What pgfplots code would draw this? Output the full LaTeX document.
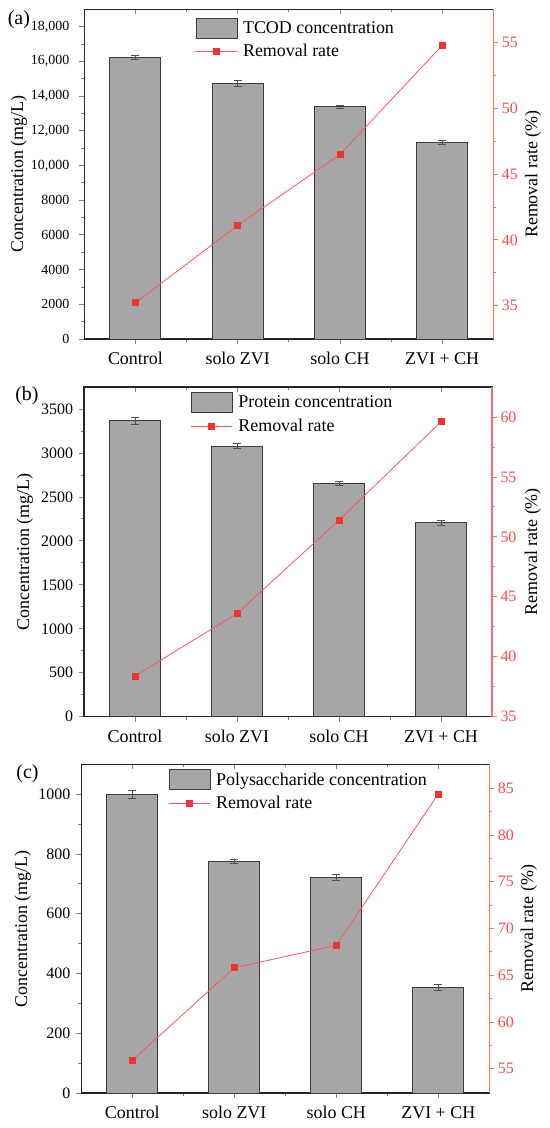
\documentclass[border=0pt]{standalone}
\usepackage{fontspec}
\setmainfont{Liberation Serif}
\usepackage{pgfplots}
\pgfplotsset{compat=1.18}
\definecolor{barfill}{HTML}{A6A6A6}
\definecolor{bardraw}{HTML}{3A3A3A}
\definecolor{errc}{HTML}{505050}
\definecolor{redaxis}{HTML}{FF6A6A}
\definecolor{redtext}{HTML}{FF4848}
\definecolor{redline}{HTML}{FF5555}
\definecolor{redmark}{HTML}{EE3333}
\pgfplotsset{
  base/.style={scale only axis, xmin=-0.5, xmax=3.5, scaled y ticks=false, scaled x ticks=false,
    /pgf/number format/assume math mode=true, /pgf/number format/1000 sep={},
    major tick length=5bp, minor tick length=3bp,
    axis line style={line width=1.1bp, draw=black!85},
    every tick/.append style={line width=0.8bp}},
  barax/.style={base, clip=false, xtick={0,1,2,3}, xticklabels={Control,solo ZVI,solo CH,ZVI + CH},
    minor xtick={0.5,1.5,2.5}, xtick pos=left, ytick pos=left, tick align=outside,
    minor y tick num=1,
    ylabel={Concentration (mg/L)},
    ylabel style={anchor=center, font=\fontsize{18}{20}\selectfont},
    yticklabel style={font=\fontsize{16}{18}\selectfont, xshift=-2.5bp},
    xticklabel style={font=\fontsize{18}{20}\selectfont, yshift=-5bp}},
  lineax/.style={base, axis y line*=right, axis x line=none, tick align=outside,
    minor y tick num=1,
    y axis line style={draw=redaxis, line width=1.2bp}, tick style={draw=redaxis},
    yticklabel style={font=\fontsize{16}{18}\selectfont, text=redtext},
    ylabel={Removal rate (\%)},
    ylabel style={anchor=center, font=\fontsize{18}{20}\selectfont},
    legend cell align=left,
    legend style={anchor=north west, draw=none, fill=none, inner sep=0pt, outer sep=0pt,
      row sep=6bp, font=\fontsize{18}{20}\selectfont, nodes={inner sep=0pt},
      /tikz/every odd column/.append style={column sep=5.5bp}}},
  topax/.style={base, axis x line*=top, axis y line=none, tick align=inside,
    xtick={0,1,2,3}, minor xtick={0.5,1.5,2.5}, xticklabels={}, ymin=0, ymax=1},
  bars/.style={ybar, bar width=0.5, fill=barfill, draw=bardraw, line width=1bp,
    error bars/.cd, y dir=both, y explicit,
    error bar style={color=errc, line width=0.7bp},
    error mark options={rotate=90, mark size=4bp, line width=0.7bp, color=errc}},
  rline/.style={color=redline, line width=0.8bp, mark=square*, mark size=3bp,
    mark options={fill=redmark, draw=redmark},
    legend image code/.code={\draw[mark repeat=2,mark phase=2,##1] plot coordinates {(0bp,0bp) (20.5bp,0bp) (41bp,0bp)};}},
  barleg/.style={fill=barfill, draw=bardraw, line width=1bp,
    legend image code/.code={\draw[##1] (0bp,-10bp) rectangle (41bp,10bp);}},
}
\begin{document}
\begin{tikzpicture}
% ---------------- (a)
\begin{axis}[barax, at={(84.3bp,-339bp)}, anchor=south west, width=409bp, height=329.7bp,
  ymin=0, ymax=19000, ytick={0,2000,...,18000},
  yticklabels={0,2000,4000,6000,8000,{10,000},{12,000},{14,000},{16,000},{18,000}},
  yticklabel style={font=\fontsize{14}{16}\selectfont, xshift=-4bp},
  ylabel style={at={(axis description cs:-0.16,0.5)}}]
\addplot[bars] coordinates {(0,16230) +- (0,120) (1,14745) +- (0,170) (2,13398) +- (0,80) (3,11320) +- (0,120)};
\node[font=\fontsize{20}{22}\selectfont] at (axis description cs:-0.16,0.968) {(a)};
\end{axis}
\begin{axis}[topax, at={(84.3bp,-339bp)}, anchor=south west, width=409bp, height=329.7bp]
\addplot[draw=none] coordinates {(0,0)};
\end{axis}
\begin{axis}[lineax, at={(84.3bp,-339bp)}, anchor=south west, width=409bp, height=329.7bp,
  ymin=32.45, ymax=57.55, ytick={35,40,...,55},
  ylabel style={at={(axis description cs:1.097,0.5)}},
  legend style={at={(axis description cs:0.272,0.975)}}]
\addlegendimage{barleg}
\addlegendentry{TCOD concentration}
\addplot[rline] coordinates {(0,35.2) (1,41.1) (2,46.5) (3,54.8)};
\addlegendentry{Removal rate}
\end{axis}
% ---------------- (b)
\begin{axis}[barax, at={(84bp,-716.7bp)}, anchor=south west, width=408bp, height=329.7bp,
  ymin=0, ymax=3750, ytick={0,500,...,3500},
  ylabel style={at={(axis description cs:-0.145,0.5)}}]
\addplot[bars] coordinates {(0,3367) +- (0,38) (1,3079) +- (0,30) (2,2654) +- (0,26) (3,2207) +- (0,26)};
\node[font=\fontsize{20}{22}\selectfont] at (axis description cs:-0.14,0.973) {(b)};
\end{axis}
\begin{axis}[topax, at={(84bp,-716.7bp)}, anchor=south west, width=408bp, height=329.7bp]
\addplot[draw=none] coordinates {(0,0)};
\end{axis}
\begin{axis}[lineax, at={(84bp,-716.7bp)}, anchor=south west, width=408bp, height=329.7bp,
  ymin=35, ymax=62.5, ytick={35,40,...,60},
  ylabel style={at={(axis description cs:1.10,0.5)}},
  legend style={at={(axis description cs:0.262,0.985)}}]
\addlegendimage{barleg}
\addlegendentry{Protein concentration}
\addplot[rline] coordinates {(0,38.4) (1,43.6) (2,51.4) (3,59.6)};
\addlegendentry{Removal rate}
\end{axis}
% ---------------- (c)
\begin{axis}[barax, at={(81.3bp,-1093bp)}, anchor=south west, width=408bp, height=328.7bp,
  ymin=0, ymax=1100, ytick={0,200,...,1000},
  ylabel style={at={(axis description cs:-0.143,0.5)}}]
\addplot[bars] coordinates {(0,1000) +- (0,13) (1,776) +- (0,6) (2,722) +- (0,9) (3,354) +- (0,11)};
\node[font=\fontsize{20}{22}\selectfont] at (axis description cs:-0.132,0.97) {(c)};
\end{axis}
\begin{axis}[topax, at={(81.3bp,-1093bp)}, anchor=south west, width=408bp, height=328.7bp]
\addplot[draw=none] coordinates {(0,0)};
\end{axis}
\begin{axis}[lineax, at={(81.3bp,-1093bp)}, anchor=south west, width=408bp, height=328.7bp,
  ymin=52.4, ymax=87.57, ytick={55,60,...,85},
  ylabel style={at={(axis description cs:1.097,0.5)}},
  legend style={at={(axis description cs:0.214,0.985)}}]
\addlegendimage{barleg}
\addlegendentry{Polysaccharide concentration}
\addplot[rline] coordinates {(0,55.9) (1,65.8) (2,68.2) (3,84.4)};
\addlegendentry{Removal rate}
\end{axis}
\pgfresetboundingbox
\path (0,0) rectangle (550bp,-1128bp);
\end{tikzpicture}
\end{document}
